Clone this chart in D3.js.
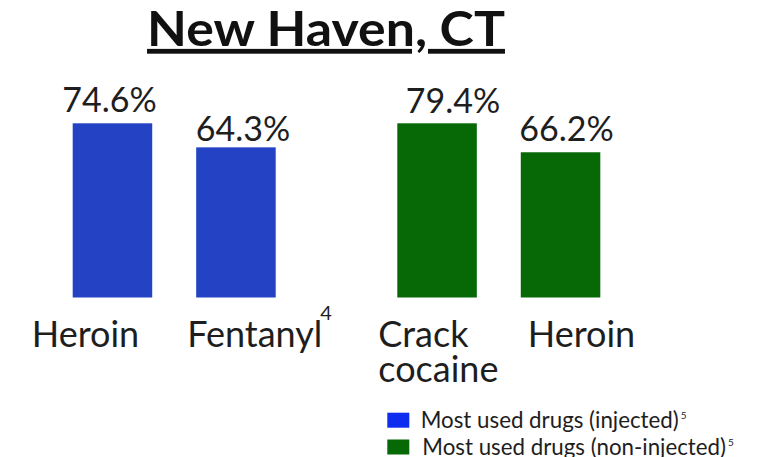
<!DOCTYPE html>
<html>
<head>
<meta charset="utf-8">
<script src="https://cdn.jsdelivr.net/npm/d3@7"></script>
<style>
  html, body { margin: 0; padding: 0; background: #fff; }
  svg { display: block; }
  text { font-family: Lato, "Open Sans", sans-serif; fill: #1e1e1e; }
</style>
</head>
<body>
<svg id="chart" width="760" height="457"></svg>
<script>
// ---- data ----
const title = "New Haven, CT";
const groups = ["Most used drugs (injected)", "Most used drugs (non-injected)"];
const groupNotes = ["5", "5"];
const injectedDrugs = ["Heroin", "Fentanyl"];
const injectedNotes = ["", "4"];
const injectedValues = [74.6, 64.3];
const nonInjectedDrugs = ["Crack cocaine", "Heroin"];
const nonInjectedNotes = ["", ""];
const nonInjectedValues = [79.4, 66.2];

// ---- layout (not data) ----
const colors = ["#2343c4", "#066906"];
const legendColors = ["#0d2eee", "#066906"];
const labelDx = [[-41, -9], [-19, 7]];       // category label offset from bar left
const valueDx = [[-3, 7], [16, 6]];         // value label offset from bar centre
const valueGap = [[11, 6], [10, 11]];

const svg = d3.select("#chart");
const baseY = 297.5, topY = 123.3;

const series = [
  { name: groups[0], drugs: injectedDrugs, notes: injectedNotes, values: injectedValues },
  { name: groups[1], drugs: nonInjectedDrugs, notes: nonInjectedNotes, values: nonInjectedValues }
];

const x0 = d3.scaleBand().domain(groups).range([72.7, 600.3]).paddingInner(0.3746).paddingOuter(0);
const x1 = d3.scaleBand().domain([0, 1]).range([0, x0.bandwidth()]).paddingInner(0.356).paddingOuter(0);

// title (glyphs in the reference are slightly wider than Lato Bold)
const titleText = svg.append("text")
  .attr("x", 0).attr("y", 46)
  .attr("text-anchor", "middle")
  .style("font-size", "48px").style("font-weight", "700")
  .style("fill", "#111")
  .style("text-decoration", "underline")
  .text(title);
const tw = titleText.node().getComputedTextLength();
const sx = 358 / tw;
titleText.attr("transform", `translate(326,0) scale(${sx},1)`);

series.forEach((s, gi) => {
  const y = d3.scaleLinear().domain([0, d3.max(s.values)]).range([baseY, topY]);
  const g = svg.append("g").attr("transform", `translate(${x0(s.name)},0)`);
  const idx = d3.range(s.values.length);

  g.selectAll("rect").data(idx).join("rect")
    .attr("x", i => x1(i))
    .attr("width", x1.bandwidth())
    .attr("y", i => y(s.values[i]))
    .attr("height", i => baseY - y(s.values[i]))
    .attr("fill", colors[gi]);

  g.selectAll("text.val").data(idx).join("text")
    .attr("class", "val")
    .attr("x", i => x1(i) + x1.bandwidth() / 2 + valueDx[gi][i])
    .attr("y", i => y(s.values[i]) - valueGap[gi][i])
    .attr("text-anchor", "middle")
    .style("font-size", "34px")
    .text(i => s.values[i].toFixed(1) + "%");

  const lab = g.selectAll("text.cat").data(idx).join("text")
    .attr("class", "cat")
    .attr("x", i => x1(i) + labelDx[gi][i])
    .attr("y", 346.7)
    .style("font-size", "36px");
  lab.each(function (i) {
    const t = d3.select(this);
    const words = s.drugs[i].split(" ");
    words.forEach((w, li) => {
      t.append("tspan")
        .attr("x", x1(i) + labelDx[gi][i])
        .attr("dy", li === 0 ? 0 : 35)
        .text(w);
    });
    if (s.notes[i]) {
      t.append("tspan").attr("dx", -2).attr("dy", -27).style("font-size", "20px").text(s.notes[i]);
    }
  });
});

// legend
const legendY = [412.7, 439.5];
const legendTextX = [420.7, 422.3];
const lg = svg.append("g");
groups.forEach((name, i) => {
  lg.append("rect")
    .attr("x", 387.3).attr("y", legendY[i])
    .attr("width", 22).attr("height", 15)
    .attr("fill", legendColors[i]);
  const t = lg.append("text")
    .attr("x", legendTextX[i]).attr("y", legendY[i] + 15.3)
    .style("font-size", "22.3px")
    .text(name);
  t.append("tspan").attr("dx", 2).attr("dy", -9).style("font-size", "10px").text(groupNotes[i]);
});
</script>
</body>
</html>
